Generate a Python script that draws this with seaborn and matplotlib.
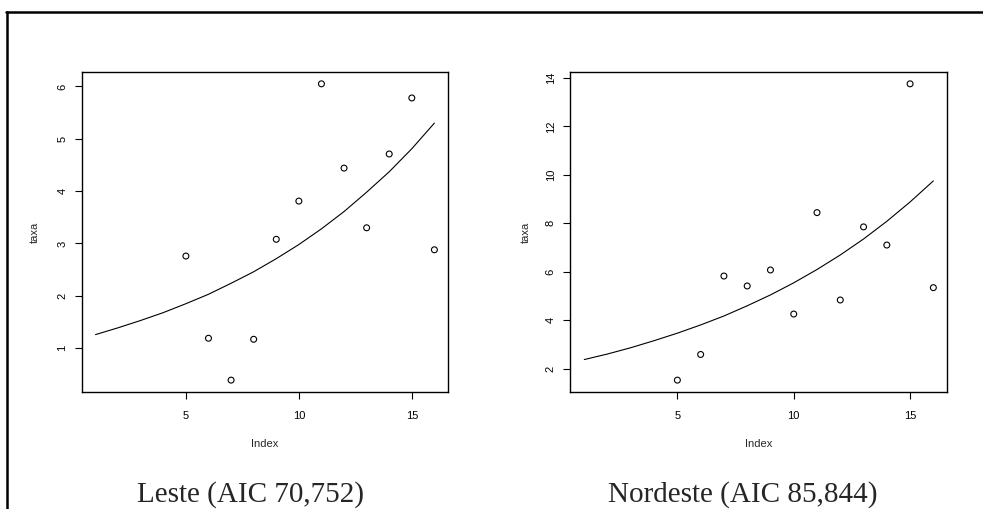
import matplotlib

matplotlib.use("Agg")
import matplotlib.pyplot as plt
import pandas as pd
import seaborn as sns
from matplotlib.lines import Line2D

leste_index = [5, 6, 7, 8, 9, 10, 11, 12, 13, 14, 15, 16]
leste_taxa = [2.76, 1.19, 0.39, 1.17, 3.08, 3.81, 6.05, 4.44, 3.30, 4.71, 5.78, 2.88]

nordeste_index = [5, 6, 7, 8, 9, 10, 11, 12, 13, 14, 15, 16]
nordeste_taxa = [1.52, 2.58, 5.82, 5.41, 6.07, 4.25, 8.44, 4.83, 7.85, 7.10, 13.76, 5.34]

# Fitted curves (values read at each index 1..16)
fit_index = list(range(1, 17))
leste_fit = [1.26, 1.39, 1.53, 1.68, 1.85, 2.03, 2.24, 2.46,
             2.71, 2.98, 3.28, 3.61, 3.98, 4.37, 4.81, 5.30]
nordeste_fit = [2.37, 2.60, 2.86, 3.15, 3.46, 3.80, 4.17, 4.59,
                5.04, 5.54, 6.09, 6.69, 7.35, 8.08, 8.88, 9.75]

captions = ["Leste (AIC 70,752)", "Nordeste (AIC 85,844)"]
leste_yticks = [1, 2, 3, 4, 5, 6]
nordeste_yticks = [2, 4, 6, 8, 10, 12, 14]
xticks = [5, 10, 15]

sns.set_style("ticks")
plt.rcParams["font.family"] = ["Liberation Sans", "DejaVu Sans"]
plt.rcParams["axes.edgecolor"] = "black"
plt.rcParams["xtick.color"] = "black"
plt.rcParams["ytick.color"] = "black"

fig = plt.figure(figsize=(9.83, 5.09), dpi=100)
ax1 = fig.add_axes([0.0834, 0.2299, 0.3723, 0.6287])
ax2 = fig.add_axes([0.5802, 0.2299, 0.3835, 0.6287])

panels = [
    (ax1, leste_index, leste_taxa, leste_fit, leste_yticks, 13),
    (ax2, nordeste_index, nordeste_taxa, nordeste_fit, nordeste_yticks, 11),
]

for ax, idx, taxa, fit, yt, ylpad in panels:
    pts = pd.DataFrame({"Index": idx, "taxa": taxa})
    curve = pd.DataFrame({"Index": fit_index, "taxa": fit})
    sns.scatterplot(data=pts, x="Index", y="taxa", ax=ax, marker="o",
                    s=18, facecolors="none", edgecolor="black", linewidth=0.8)
    sns.lineplot(data=curve, x="Index", y="taxa", ax=ax, color="black",
                 linewidth=0.8)

    # R-style 4% padding around the data range
    xlo, xhi = 1, 16
    ylo = min(min(taxa), min(fit))
    yhi = max(max(taxa), max(fit))
    ax.set_xlim(xlo - 0.04 * (xhi - xlo), xhi + 0.04 * (xhi - xlo))
    ax.set_ylim(ylo - 0.04 * (yhi - ylo), yhi + 0.04 * (yhi - ylo))

    ax.set_xticks(xticks)
    ax.set_yticks(yt)
    ax.tick_params(axis="both", labelsize=8, length=5, width=0.8)
    ax.tick_params(axis="x", pad=9)
    ax.tick_params(axis="y", pad=5.5)
    for lab in ax.get_yticklabels():
        lab.set_rotation(90)
        lab.set_va("center")
    ax.set_xlabel("Index", fontsize=8, labelpad=13)
    ax.set_ylabel("taxa", fontsize=8, labelpad=ylpad)
    for sp in ax.spines.values():
        sp.set_visible(True)
        sp.set_linewidth(1.0)
        sp.set_color("black")

# Captions under each panel
fig.text(250 / 983, 0.0135, captions[0], ha="center", va="baseline",
         fontsize=21, family=["Liberation Serif", "DejaVu Serif"])
fig.text(743 / 983, 0.0135, captions[1], ha="center", va="baseline",
         fontsize=21, family=["Liberation Serif", "DejaVu Serif"])

# Outer frame (top and left edges)
top = 1 - 12 / 509
fig.add_artist(Line2D([6 / 983, 1], [top, top], color="black", linewidth=1.8,
                      transform=fig.transFigure))
fig.add_artist(Line2D([7 / 983, 7 / 983], [0, top], color="black", linewidth=1.8,
                      transform=fig.transFigure))

fig.savefig("out.png", dpi=100)
